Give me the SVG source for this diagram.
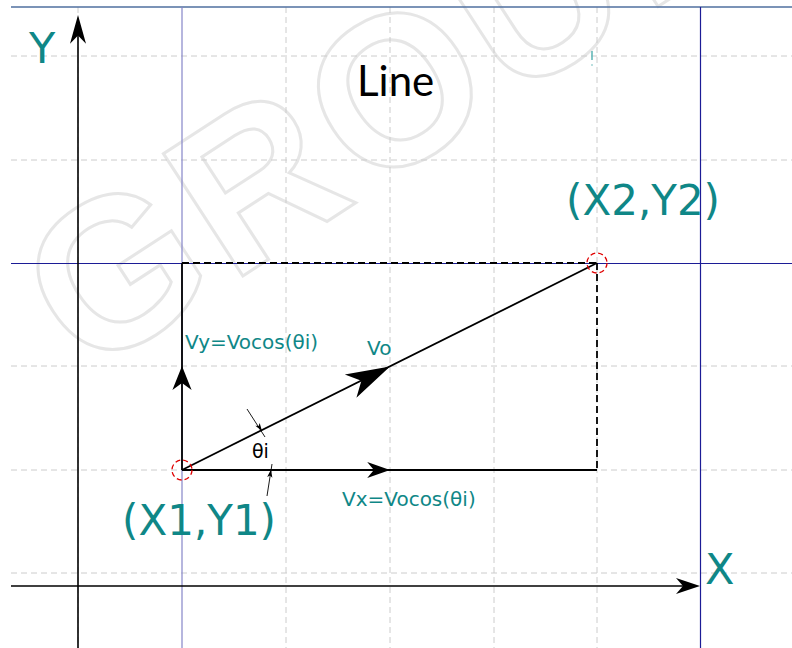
<svg xmlns="http://www.w3.org/2000/svg" width="792" height="648" viewBox="0 0 792 648">
<style>
.grid{stroke:#cccccc;stroke-width:1;stroke-dasharray:6 4;fill:none}
.blue{stroke:#1c1c96;stroke-width:1.2;fill:none}
.blue2{stroke:#8585c8;stroke-width:1.2;fill:none}
.ax{stroke:#000;stroke-width:1.6;fill:none}
.vec{stroke:#000;stroke-width:1.8;fill:none}
.dash{stroke:#000;stroke-width:1.8;stroke-dasharray:7 4;fill:none}
.thin{stroke:#000;stroke-width:0.9;fill:none}
.pt{stroke:#e00000;stroke-width:1.3;stroke-dasharray:5 3;fill:none}
.teal{fill:#0f8787;font-family:"DejaVu Sans",Verdana,sans-serif}
.big{font-size:42px}
.sm{font-size:20px}
.wm{fill:none;stroke:#e6e6e6;stroke-width:3;font-family:"Liberation Sans",Arial,sans-serif;font-size:212px;font-weight:bold;letter-spacing:8px}
</style>
<defs>
<path id="ah" d="M0,0 L-24,-8 L-17,0 L-24,8 Z" fill="#000"/>
<path id="ahL" d="M0,0 L-44,-13 L-32,0 L-44,13 Z" fill="#000"/>
<path id="ahS" d="M0,0 L-8,-2.6 L-6,0 L-8,2.6 Z" fill="#000"/>
</defs>
<rect width="792" height="648" fill="#fff"/>
<text class="wm" transform="translate(86,378) rotate(-33)">GROUP</text>
<g id="grid">
<line class="grid" x1="11" y1="56" x2="792" y2="56"/>
<line class="grid" x1="11" y1="160" x2="792" y2="160"/>
<line class="grid" x1="11" y1="366" x2="792" y2="366"/>
<line class="grid" x1="11" y1="470" x2="792" y2="470"/>
<line class="grid" x1="11" y1="573" x2="792" y2="573"/>
<line class="grid" x1="78" y1="7" x2="78" y2="648"/>
<line class="grid" x1="286" y1="7" x2="286" y2="648"/>
<line class="grid" x1="390" y1="7" x2="390" y2="648"/>
<line class="grid" x1="494" y1="7" x2="494" y2="648"/>
<line class="grid" x1="597" y1="7" x2="597" y2="648"/>
</g>
<g id="frame">
<line x1="11" y1="7" x2="792" y2="7" stroke="#4f6f9f" stroke-width="1.5"/>
<line class="blue" x1="11" y1="263.5" x2="792" y2="263.5"/>
<line class="blue" x1="700.5" y1="7" x2="700.5" y2="648"/>
<line class="blue2" x1="182" y1="7" x2="182" y2="648"/>
<line x1="592" y1="51" x2="592" y2="60" stroke="#5ab5b5" stroke-width="1.5"/>
<line x1="592" y1="64" x2="592" y2="66" stroke="#8ccaca" stroke-width="1.2"/>
</g>
<g id="axes">
<line class="ax" x1="78" y1="20" x2="78" y2="648"/>
<use href="#ah" transform="translate(78,15) rotate(-90) scale(1.2,1)"/>
<line class="ax" x1="11" y1="586" x2="696" y2="586"/>
<use href="#ah" transform="translate(700,586)"/>
</g>
<g id="connectors">
<line class="dash" x1="182" y1="263" x2="597" y2="263"/>
<line class="dash" x1="597" y1="263" x2="597" y2="470"/>
<line class="vec" x1="182" y1="470" x2="597" y2="263"/>
<line class="vec" x1="182" y1="470" x2="597" y2="470"/>
<line class="vec" x1="182" y1="470" x2="182" y2="263"/>
<use href="#ahL" transform="translate(390,366.5) rotate(-26.5)"/>
<use href="#ah" transform="translate(390,470) scale(0.95,1)"/>
<use href="#ah" transform="translate(182,366) rotate(-90) scale(1,1.2)"/>
<line class="thin" x1="247" y1="409" x2="265" y2="437"/>
<use href="#ahS" transform="translate(262,431) rotate(56)"/>
<line class="thin" x1="267" y1="496" x2="272" y2="464"/>
<use href="#ahS" transform="translate(271,469.5) rotate(-81)"/>
</g>
<g id="p1">
<circle class="pt" cx="182" cy="470" r="10"/>
<text class="teal big" x="122" y="535">(X1,Y1)</text>
</g>
<g id="p2">
<circle class="pt" cx="597" cy="263" r="10"/>
<text class="teal big" x="566" y="215">(X2,Y2)</text>
</g>
<g id="labels">
<text class="teal" x="29" y="63" font-size="43">Y</text>
<text class="teal" x="705" y="584" font-size="43">X</text>
<text x="357" y="96" font-family="Lato,'Open Sans',sans-serif" font-size="42" fill="#000">Line</text>
<text class="teal sm" x="185" y="349">Vy=Vocos(θi)</text>
<text class="teal sm" x="367" y="355">Vo</text>
<text class="teal sm" x="342" y="506">Vx=Vocos(θi)</text>
<text x="252" y="458" font-family="'DejaVu Sans',Verdana,sans-serif" font-size="19" fill="#000">θi</text>
</g>
</svg>
